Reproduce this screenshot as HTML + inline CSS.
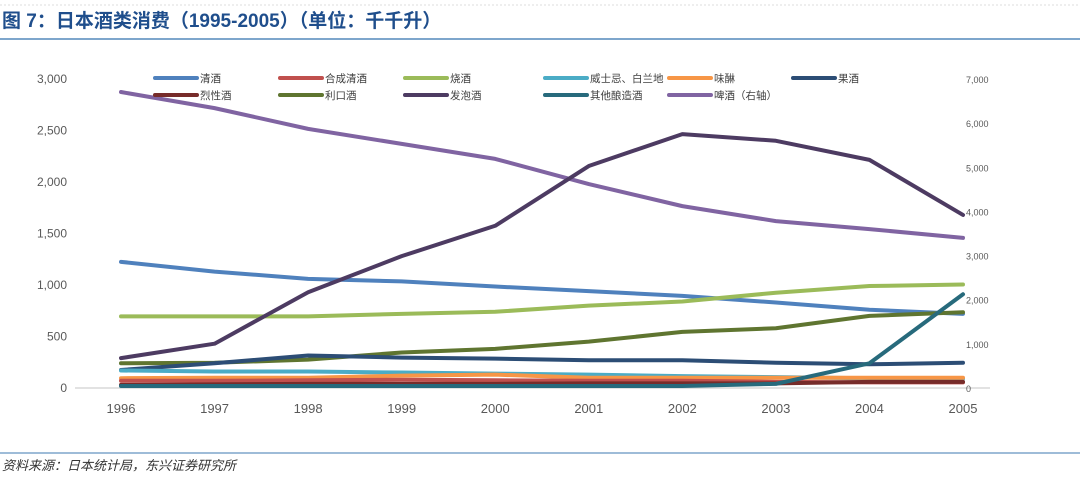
<!DOCTYPE html>
<html><head><meta charset="utf-8"><style>
body{margin:0;background:#fff;width:1080px;height:488px;overflow:hidden;font-family:"Liberation Sans","Noto Sans CJK SC",sans-serif}
</style></head><body>
<svg width="1080" height="488" style="position:absolute;left:0;top:0">
<line x1="0" y1="5" x2="1080" y2="5" stroke="#ddd" stroke-dasharray="2,2"/>
<text x="2" y="27" font-size="19" font-weight="bold" fill="#1f4e8c">图 7：日本酒类消费（1995-2005）（单位：千千升）</text>
<line x1="0" y1="39" x2="1080" y2="39" stroke="#7ea6cc" stroke-width="2"/>
<line x1="0" y1="453" x2="1080" y2="453" stroke="#7ea6cc" stroke-width="1.5"/>
<text x="2" y="470" font-size="13" font-style="italic" fill="#333">资料来源：日本统计局，东兴证券研究所</text>
<line x1="75" y1="388" x2="990" y2="388" stroke="#d9d9d9" stroke-width="1.5"/>
<g id="axes"></g><g id="lines"></g><g id="legend"></g>
</svg>
<script>
const years=['1996','1997','1998','1999','2000','2001','2002','2003','2004','2005'];
const leftTicks=[0,500,1000,1500,2000,2500,3000];
const rightTicks=[0,1000,2000,3000,4000,5000,6000,7000];
const names=['清酒','合成清酒','烧酒','威士忌、白兰地','味醂','果酒','烈性酒','利口酒','发泡酒','其他酿造酒','啤酒（右轴）'];
const colors=['#4f81bd','#c0504d','#9bbb59','#4bacc6','#f79646','#2c4d75','#772c2a','#5f7530','#4d3b62','#276a7c','#8064a2'];
const slugs=['sake','synthetic-sake','shochu','whisky-brandy','mirin','fruit-wine','spirits','liqueur','happoshu','other-brewed','beer'];
const sake=[1225,1130,1060,1035,985,940,895,830,760,720];
const synth=[70,70,75,80,75,70,70,60,55,55];
const shochu=[695,695,695,720,740,800,840,925,990,1005];
const whisky=[170,160,160,150,140,130,115,105,95,90];
const mirin=[95,100,100,120,130,100,100,100,100,100];
const fruit=[175,240,315,295,285,270,270,245,230,245];
const spirits=[30,35,40,40,40,45,45,45,60,60];
const liqueur=[240,245,275,345,380,450,545,580,700,735];
const happo=[290,430,930,1280,1575,2155,2465,2400,2215,1680];
const other=[20,20,20,20,20,20,20,40,240,910];
const beer=[6705,6340,5870,5530,5190,4620,4120,3780,3600,3400];
const series=[sake,synth,shochu,whisky,mirin,fruit,spirits,liqueur,happo,other,beer];
const NS='http://www.w3.org/2000/svg';
const x=i=>121+i*(963-121)/9;
const yl=v=>388-v/3000*309;
const yr=v=>388-v/7000*309;
function mk(t,a,p){const e=document.createElementNS(NS,t);for(const k in a)e.setAttribute(k,a[k]);p.appendChild(e);return e;}
const ax=document.getElementById('axes');
leftTicks.forEach(v=>{const t=mk('text',{x:67,y:yl(v)+4,'font-size':12,fill:'#595959','text-anchor':'end'},ax);t.textContent=v.toLocaleString('en-US');

});
rightTicks.forEach(v=>{const t=mk('text',{x:966,y:yr(v)+4,'font-size':9,fill:'#595959'},ax);t.textContent=v.toLocaleString('en-US');

});
years.forEach((y,i)=>{const t=mk('text',{x:x(i),y:413,'font-size':13,fill:'#595959','text-anchor':'middle'},ax);t.textContent=y;

});
const lg=document.getElementById('lines');
const order=[10,0,2,7,5,3,4,1,6,9,8];
order.forEach(k=>{const s=series[k];const f=k==10?yr:yl;
const p=mk('polyline',{points:s.map((v,i)=>x(i)+','+f(v)).join(' '),fill:'none',stroke:colors[k],'stroke-width':4,'stroke-linejoin':'round','stroke-linecap':'round'},lg);

});
const leg=document.getElementById('legend');
const lx=[155,280,405,545,669,793];
const lorder=[0,1,2,3,4,5,6,7,8,9,10];
lorder.forEach((k,j)=>{const r=j<6?0:1,c=j%6;const yy=r?95:78;const xx=lx[c];
const g=mk('g',{},leg);


mk('line',{x1:xx,y1:yy,x2:xx+42,y2:yy,stroke:colors[k],'stroke-width':4,'stroke-linecap':'round'},g);
const t=mk('text',{x:xx+45,y:yy+4,'font-size':10.5,fill:'#404040'},g);t.textContent=names[k];});
</script>
</body></html>
